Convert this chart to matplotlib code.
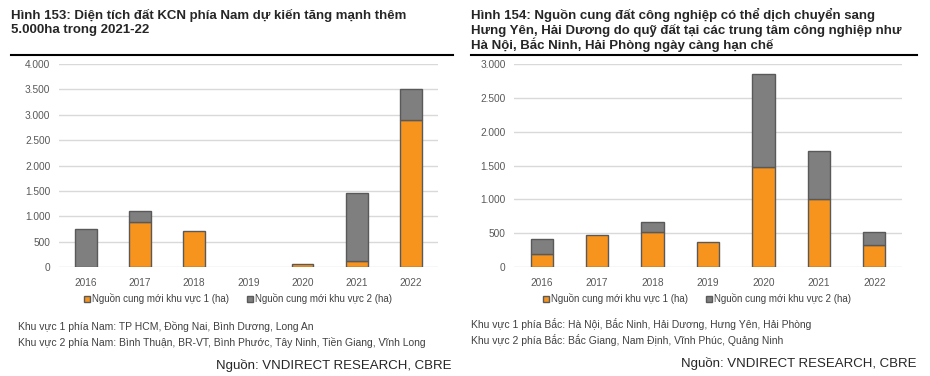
import matplotlib.pyplot as plt
import numpy as np

plt.rcParams['font.family'] = ['Liberation Sans', 'DejaVu Sans']

years = ['2016', '2017', '2018', '2019', '2020', '2021', '2022']

# Hinh 153 - phia Nam
nam_kv1 = [0, 890, 700, 0, 60, 120, 2890]
nam_kv2 = [750, 220, 0, 0, 0, 1340, 610]

# Hinh 154 - phia Bac
bac_kv1 = [190, 480, 510, 370, 1480, 1000, 330]
bac_kv2 = [220, 0, 150, 0, 1370, 710, 190]

legend_labels = ['Nguồn cung mới khu vực 1 (ha)', 'Nguồn cung mới khu vực 2 (ha)']

title_153 = ['Hình 153: Diện tích đất KCN phía Nam dự kiến tăng mạnh thêm',
             '5.000ha trong 2021-22']
title_154 = ['Hình 154: Nguồn cung đất công nghiệp có thể dịch chuyển sang',
             'Hưng Yên, Hải Dương do quỹ đất tại các trung tâm công nghiệp như',
             'Hà Nội, Bắc Ninh, Hải Phòng ngày càng hạn chế']

ORANGE = '#f7941d'
GRAY = '#7f7f7f'
EDGE = '#595959'
TXT = '#404040'

W, H = 930, 376
fig = plt.figure(figsize=(W / 100, H / 100), dpi=100)


def px(x, y):
    return x / W, 1 - y / H


def draw_panel(rect, kv1, kv2, ymax, yticks, legend_x):
    ax = fig.add_axes(rect)
    x = np.arange(len(years))
    # no outline on empty segments
    lw1 = [1 if v > 0 else 0 for v in kv1]
    lw2 = [1 if v > 0 else 0 for v in kv2]
    ax.bar(x, kv1, 0.4, color=ORANGE, edgecolor=EDGE, linewidth=lw1, label=legend_labels[0], zorder=3)
    ax.bar(x, kv2, 0.4, bottom=kv1, color=GRAY, edgecolor=EDGE, linewidth=lw2, label=legend_labels[1], zorder=3)
    ax.set_xlim(-0.5, len(years) - 0.5)
    ax.set_ylim(0, ymax)
    ax.set_yticks(yticks)
    ax.set_yticklabels([f'{v:,}'.replace(',', '.') for v in yticks])
    ax.set_xticks(x)
    ax.set_xticklabels(years)
    ax.grid(axis='y', color='#d9d9d9', linewidth=1, zorder=0)
    for s in ax.spines.values():
        s.set_visible(False)
    ax.tick_params(length=0, labelsize=7.3, colors='#595959', pad=6)
    ax.tick_params(axis='x', pad=8)
    leg = ax.legend(loc='center', bbox_to_anchor=(legend_x, 1 - 299 / H), bbox_transform=fig.transFigure,
                    ncol=2, frameon=False, fontsize=7, handlelength=0.6, handleheight=0.6,
                    handletextpad=0.2, columnspacing=1.8, labelcolor='#404040', borderaxespad=0)
    for h in leg.legend_handles:
        h.set_linewidth(1)
    return ax


draw_panel([58.6 / W, 1 - 267 / H, 379.4 / W, 203 / H], nam_kv1, nam_kv2, 4000,
           [0, 500, 1000, 1500, 2000, 2500, 3000, 3500, 4000], 238 / W)
draw_panel([514 / W, 1 - 267 / H, 388 / W, 203 / H], bac_kv1, bac_kv2, 3000,
           [0, 500, 1000, 1500, 2000, 2500, 3000], 697 / W)

# titles, one line at a time, 15 px apart
for i, line in enumerate(title_153):
    fig.text(*px(11, 15 + 15 * i), line, fontsize=9.5, fontweight='bold', color='#262626', va='center')
for i, line in enumerate(title_154):
    fig.text(*px(471, 15 + 15 * i), line, fontsize=9.5, fontweight='bold', color='#262626', va='center')

fig.add_artist(plt.Line2D([11 / W, 453 / W], [1 - 55 / H] * 2, color='black', linewidth=1.5))
fig.add_artist(plt.Line2D([471 / W, 917 / W], [1 - 55 / H] * 2, color='black', linewidth=1.5))

# notes
fig.text(*px(18, 326), 'Khu vực 1 phía Nam: TP HCM, Đồng Nai, Bình Dương, Long An',
         fontsize=7.5, color=TXT, va='center')
fig.text(*px(18, 342), 'Khu vực 2 phía Nam: Bình Thuận, BR-VT, Bình Phước, Tây Ninh, Tiền Giang, Vĩnh Long',
         fontsize=7.5, color=TXT, va='center')
fig.text(*px(471, 324), 'Khu vực 1 phía Bắc: Hà Nội, Bắc Ninh, Hải Dương, Hưng Yên, Hải Phòng',
         fontsize=7.5, color=TXT, va='center')
fig.text(*px(471, 340), 'Khu vực 2 phía Bắc: Bắc Giang, Nam Định, Vĩnh Phúc, Quảng Ninh',
         fontsize=7.5, color=TXT, va='center')

fig.text(*px(451, 366), 'Nguồn: VNDIRECT RESEARCH, CBRE', fontsize=9.5, color='#262626', ha='right', va='center')
fig.text(*px(916, 363), 'Nguồn: VNDIRECT RESEARCH, CBRE', fontsize=9.5, color='#262626', ha='right', va='center')

fig.savefig('out.png', dpi=100, facecolor='white')
